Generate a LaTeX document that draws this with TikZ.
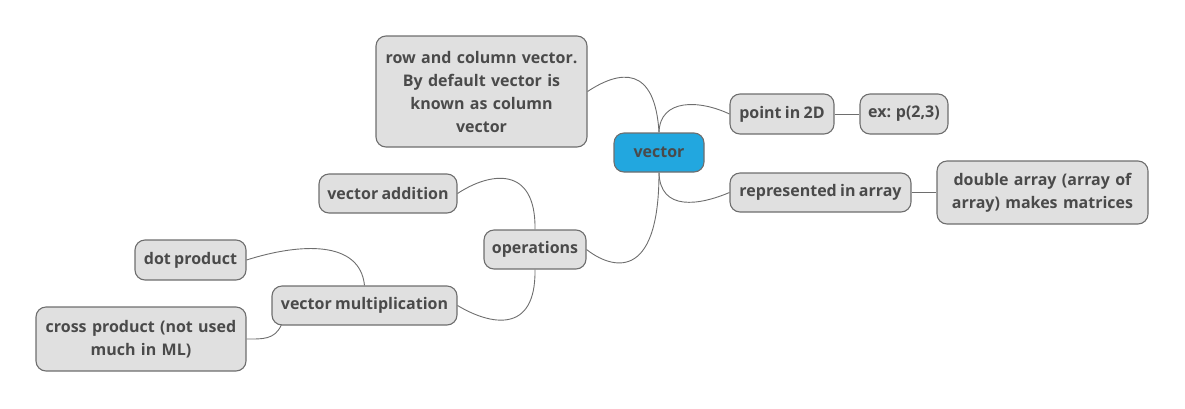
\documentclass[tikz,border=0pt]{standalone}
\usepackage{fontspec}
\setmainfont{Open Sans}[WordSpace=0.8]
\definecolor{boxfill}{HTML}{E0E0E0}
\definecolor{boxline}{HTML}{6E6E6E}
\definecolor{boxtext}{HTML}{4A4A4A}
\definecolor{rootfill}{HTML}{22A7DF}
\begin{document}
\begin{tikzpicture}[x=1pt, y=-1pt,
    topic/.style={draw=boxline, fill=boxfill, line width=1.1pt, rounded corners=10pt,
        text=boxtext, font=\fontsize{16}{23}\selectfont\bfseries, align=center, inner sep=0pt},
    root/.style={topic, fill=rootfill},
    branch/.style={draw=boxline, line width=0.9pt}]
    \useasboundingbox (0,0) rectangle (1185,408);

    % 中心
    \node[root, minimum width=90pt, minimum height=39pt] (vec) at (659,152.5) {vector};

    % 右侧分支
    \node[topic, minimum width=104pt, minimum height=40pt] (pt) at (782,114) {point in 2D};
    \node[topic, minimum width=88pt, minimum height=40pt] (ex) at (904,114) {ex: p(2,3)};
    \node[topic, minimum width=181pt, minimum height=39pt] (arr) at (820.5,192.5) {represented in array};
    \node[topic, minimum width=211pt, minimum height=63pt, text width=200pt] (dbl) at (1042.5,192.5)
        {double array (array of\\array) makes matrices};

    % 左侧分支
    \node[topic, minimum width=211pt, minimum height=111pt, text width=200pt] (rc) at (481.5,91.5)
        {row and column vector.\\By default vector is\\known as column\\vector};
    \node[topic, minimum width=102pt, minimum height=39pt] (ops) at (535,249.5) {operations};
    \node[topic, minimum width=138pt, minimum height=39pt] (add) at (388,193.5) {vector addition};
    \node[topic, minimum width=185pt, minimum height=39pt] (mul) at (364.5,305.5) {vector multiplication};
    \node[topic, minimum width=111pt, minimum height=40pt] (dot) at (190.5,260) {dot product};
    \node[topic, minimum width=210pt, minimum height=64pt, text width=200pt] (crs) at (141,339)
        {cross product (not used\\much in ML)};

    % 连线
    \draw[branch] (vec.north) .. controls (660,98) and (700,100) .. (pt.west);
    \draw[branch] (pt.east) -- (ex.west);
    \draw[branch] (vec.south) .. controls (660,212) and (700,205) .. (arr.west);
    \draw[branch] (arr.east) -- (dbl.west);
    \draw[branch] (vec.north) .. controls (655,65) and (620,70) .. (rc.east);
    \draw[branch] (vec.south) .. controls (659,285) and (610,268) .. (ops.east);
    \draw[branch] (ops.north) .. controls (536,165) and (490,172) .. (add.east);
    \draw[branch] (ops.south) .. controls (536,335) and (490,325) .. (mul.east);
    \draw[branch] (mul.north) .. controls (360,240) and (300,243) .. (dot.east);
    \draw[branch] (mul.south west) ++(10,-1) coordinate (m1) .. controls (275,340) and (262,339) .. (crs.east);
\end{tikzpicture}
\end{document}
